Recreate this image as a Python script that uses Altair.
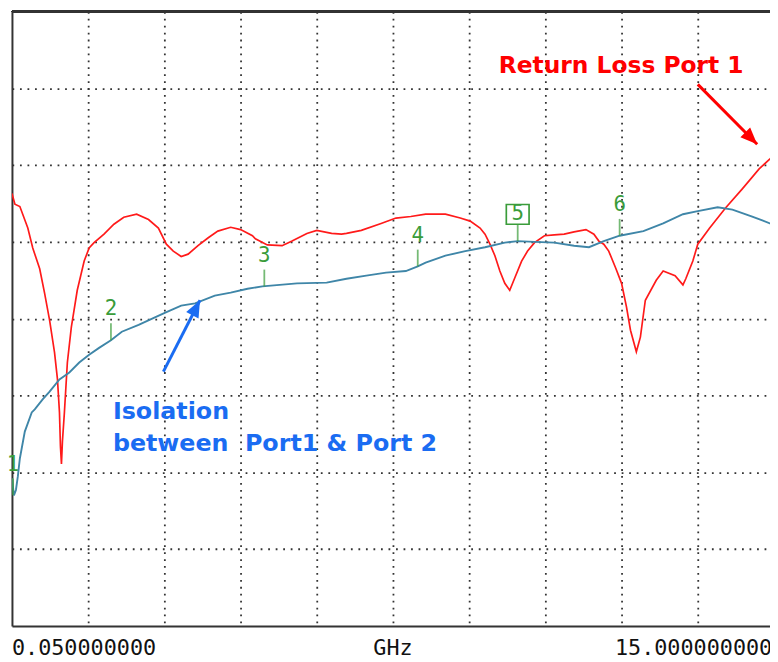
import altair as alt
import pandas as pd

# ---- Trace 1: Return Loss Port 1 (red), GHz / dB
rl_ghz = [0.05, 0.108, 0.205, 0.361, 0.458, 0.594, 0.691, 0.788, 0.885, 0.943, 0.982, 1.001, 1.021, 1.04,
          1.079, 1.137, 1.215, 1.331, 1.467, 1.564, 1.661, 1.856, 2.05, 2.244, 2.496, 2.729, 2.923, 3.079,
          3.215, 3.37, 3.506, 3.70, 3.894, 4.089, 4.341, 4.535, 4.768, 4.826, 5.059, 5.35, 5.545, 5.836,
          6.03, 6.321, 6.515, 6.613, 6.904, 7.292, 7.583, 7.875, 8.166, 8.457, 8.554, 8.845, 9.04, 9.234,
          9.331, 9.428, 9.525, 9.622, 9.719, 9.816, 9.914, 10.049, 10.166, 10.302, 10.496, 10.69, 10.884,
          11.078, 11.311, 11.467, 11.564, 11.661, 11.758, 11.894, 12.01, 12.107, 12.185, 12.30, 12.379,
          12.476, 12.69, 12.826, 13.06, 13.214, 13.27, 13.408, 13.505, 13.738, 14.049, 14.379, 14.709,
          14.922, 15.0]
rl_db = [-13.7, -15.1, -15.4, -18.2, -20.8, -23.5, -26.7, -30.2, -34.4, -37.9, -42.2, -46.6, -48.9, -46.0,
         -42.2, -35.7, -31.1, -26.3, -22.5, -20.8, -20.1, -19.0, -17.7, -16.8, -16.4, -17.1, -18.2, -20.3,
         -21.2, -21.9, -21.6, -20.5, -19.5, -18.6, -18.1, -18.4, -19.2, -19.6, -20.4, -20.5, -19.9, -18.9,
         -18.5, -18.9, -19.0, -18.9, -18.5, -17.6, -16.9, -16.7, -16.4, -16.4, -16.4, -16.9, -17.3, -18.2,
         -19.0, -20.3, -21.8, -23.8, -25.4, -26.3, -24.7, -22.5, -21.2, -20.1, -19.2, -19.1, -19.0,
         -18.7, -18.4, -19.0, -19.9, -20.3, -21.2, -23.4, -25.4, -28.5, -31.5, -34.3, -32.4,
         -27.6, -25.0, -23.8, -24.4, -25.6, -24.8, -22.5, -20.3, -18.2, -15.6, -13.1, -10.5,
         -9.2, -8.7]

# ---- Trace 2: Isolation between Port1 & Port 2 (teal)
iso_ghz = [0.05, 0.089, 0.128, 0.166, 0.205, 0.302, 0.438, 0.497, 0.652, 0.788, 0.982, 1.176, 1.37, 1.564,
           1.759, 1.992, 2.205, 2.535, 2.865, 3.059, 3.37, 3.642, 4.03, 4.341, 4.671, 4.962, 5.642, 6.224,
           6.613, 7.001, 7.389, 7.778, 8.011, 8.166, 8.554, 8.943, 9.331, 9.719, 9.972, 10.302, 10.69,
           11.078, 11.37, 11.661, 11.972, 12.438, 12.826, 13.214, 13.505, 13.894, 14.185, 14.573, 14.922, 15.0]
iso_db = [-50.8, -53.0, -52.3, -50.5, -48.2, -44.7, -42.2, -41.8, -40.5, -39.5, -37.9, -37.0, -35.7, -34.7,
          -33.8, -32.8, -31.7, -30.8, -29.8, -29.2, -28.3, -28.0, -27.0, -26.6, -26.1, -25.8, -25.4, -25.3,
          -24.8, -24.4, -24.0, -23.8, -23.2, -22.7, -21.8, -21.2, -20.7, -20.1, -19.9, -20.0, -20.1,
          -20.5, -20.7, -19.9, -19.2, -18.6, -17.6, -16.4, -16.0, -15.5, -15.8, -16.7, -17.6, -17.8]

# ---- Markers
marker_labels = ["1", "2", "3", "4", "5", "6"]
marker_ghz = [0.07, 1.992, 5.001, 8.011, 9.972, 11.972]
marker_db = [-53.0, -32.8, -25.8, -23.2, -19.9, -19.2]
marker_boxed = [False, False, False, False, True, False]

# ---- Annotations
ann_text = ["Return Loss Port 1", "Isolation", "between\u00a0 Port1 & Port 2"]
ann_ghz = [9.6, 2.03, 2.03]
ann_db = [2.0, -43.1, -47.2]
ann_color = ["#ff0000", "#1a6cf2", "#1a6cf2"]
ann_size = [23.6, 24, 24]

arrow_from_ghz = [13.505, 3.021]
arrow_from_db = [0.5, -36.9]
arrow_to_ghz = [14.67, 3.739]
arrow_to_db = [-7.3, -27.6]
arrow_color = ["#ff0000", "#1a6cf2"]
arrow_angle = [135, 27]

# ---- Frequency labels under the grid
freq_labels = ["0.050000000", "GHz", "15.000000000"]
freq_label_ghz = [0.05, 7.525, 11.88]
freq_label_align = ["left", "center", "left"]

GHZ_START, GHZ_STOP = 0.05, 15.0
DB_MIN, DB_MAX = -70, 10
grid_ghz = [GHZ_START + (GHZ_STOP - GHZ_START) / 10 * k for k in range(1, 10)]
grid_db = [0, -10, -20, -30, -40, -50, -60]

W, H = 766, 621
x_scale = alt.Scale(domain=[GHZ_START, 14.922], nice=False, zero=False)
y_scale = alt.Scale(domain=[DB_MIN, DB_MAX], nice=False, zero=False)

FRAME = "#333333"
GRID = "#333333"
GREEN = "#3a9c3a"

x_axis = alt.Axis(values=grid_ghz, grid=True, gridDash=[1.8, 5.2], gridColor=GRID, gridWidth=1.8,
                  labels=False, ticks=False, domain=True, domainColor=FRAME, domainWidth=2, title=None)
y_axis = alt.Axis(values=grid_db, grid=True, gridDash=[1.8, 5.8], gridColor=GRID, gridWidth=1.8,
                  labels=False, ticks=False, domain=True, domainColor=FRAME, domainWidth=2, title=None)

rl_df = pd.DataFrame({"ghz": rl_ghz, "db": rl_db})
iso_df = pd.DataFrame({"ghz": iso_ghz, "db": iso_db})
mk_df = pd.DataFrame({"label": marker_labels, "ghz": marker_ghz, "db": marker_db, "boxed": marker_boxed})
ann_df = pd.DataFrame({"text": ann_text, "ghz": ann_ghz, "db": ann_db, "color": ann_color, "size": ann_size})
arr_df = pd.DataFrame({"x": arrow_from_ghz, "y": arrow_from_db, "x2": arrow_to_ghz, "y2": arrow_to_db,
                       "color": arrow_color, "angle": arrow_angle})
fl_df = pd.DataFrame({"text": freq_labels, "ghz": freq_label_ghz, "align": freq_label_align})

X = alt.X("ghz:Q", scale=x_scale, axis=x_axis)
Y = alt.Y("db:Q", scale=y_scale, axis=y_axis)

red = alt.Chart(rl_df).mark_line(color="#ff1a1a", strokeWidth=1.7, clip=True).encode(
    x=X, y=Y, order="ghz:Q")
blue = alt.Chart(iso_df).mark_line(color="#3f86a8", strokeWidth=1.9, clip=True).encode(
    x=alt.X("ghz:Q", scale=x_scale), y=alt.Y("db:Q", scale=y_scale), order="ghz:Q")

xs = alt.X("ghz:Q", scale=x_scale)
ys = alt.Y("db:Q", scale=y_scale)

mk_tick = alt.Chart(mk_df).mark_tick(orient="vertical", size=17, thickness=1.8, color=GREEN,
                                     yOffset=-8.5).encode(x=xs, y=ys)
mk_text = alt.Chart(mk_df).transform_filter("!datum.boxed").mark_text(
    font="DejaVu Sans Mono", fontSize=21, color=GREEN, baseline="bottom", dy=-21).encode(
    x=xs, y=ys, text="label:N")
mk_box = alt.Chart(mk_df).transform_filter("datum.boxed").mark_point(
    shape="M-1.15,-1H1.15V1H-1.15Z", size=400, filled=False, color=GREEN, strokeWidth=1.7,
    yOffset=-27, opacity=1).encode(x=xs, y=ys)
mk_box_text = alt.Chart(mk_df).transform_filter("datum.boxed").mark_text(
    font="DejaVu Sans Mono", fontSize=21, color=GREEN, baseline="middle", dy=-27).encode(
    x=xs, y=ys, text="label:N")

ann = alt.Chart(ann_df).mark_text(font="DejaVu Sans", fontWeight="bold", align="left",
                                  baseline="alphabetic").encode(
    x=xs, y=ys, text="text:N", color=alt.Color("color:N", scale=None),
    size=alt.Size("size:Q", scale=None))

arr_line = alt.Chart(arr_df).mark_rule(strokeWidth=3).encode(
    x=alt.X("x:Q", scale=x_scale), y=alt.Y("y:Q", scale=y_scale),
    x2="x2:Q", y2="y2:Q", color=alt.Color("color:N", scale=None))
arr_head = alt.Chart(arr_df).mark_point(shape="M0,0L-0.7,1.7L0.7,1.7Z", size=400, filled=True,
                                        opacity=1).encode(
    x=alt.X("x2:Q", scale=x_scale), y=alt.Y("y2:Q", scale=y_scale),
    color=alt.Color("color:N", scale=None), angle=alt.Angle("angle:Q", scale=None))

top_frame = alt.Chart(rl_df).mark_rule(color=FRAME, strokeWidth=2).encode(y=alt.value(0))

fl_left = alt.Chart(fl_df).transform_filter("datum.align == 'left'").mark_text(
    font="DejaVu Sans Mono", fontSize=22, color="#111111", baseline="alphabetic", align="left").encode(
    x=xs, y=alt.value(H + 29), text="text:N")
fl_center = alt.Chart(fl_df).transform_filter("datum.align == 'center'").mark_text(
    font="DejaVu Sans Mono", fontSize=22, color="#111111", baseline="alphabetic", align="center").encode(
    x=xs, y=alt.value(H + 29), text="text:N")

chart = alt.layer(
    red, blue, mk_tick, mk_text, mk_box, mk_box_text, arr_line, arr_head, ann, top_frame, fl_left, fl_center
).properties(
    width=W, height=H,
    autosize=alt.AutoSizeParams(type="none"),
    padding={"left": 4, "top": 0, "right": 0, "bottom": 35},
    background="white",
).configure_view(stroke=None)

chart.save("out.html", embed_options={"renderer": "svg", "actions": False})
